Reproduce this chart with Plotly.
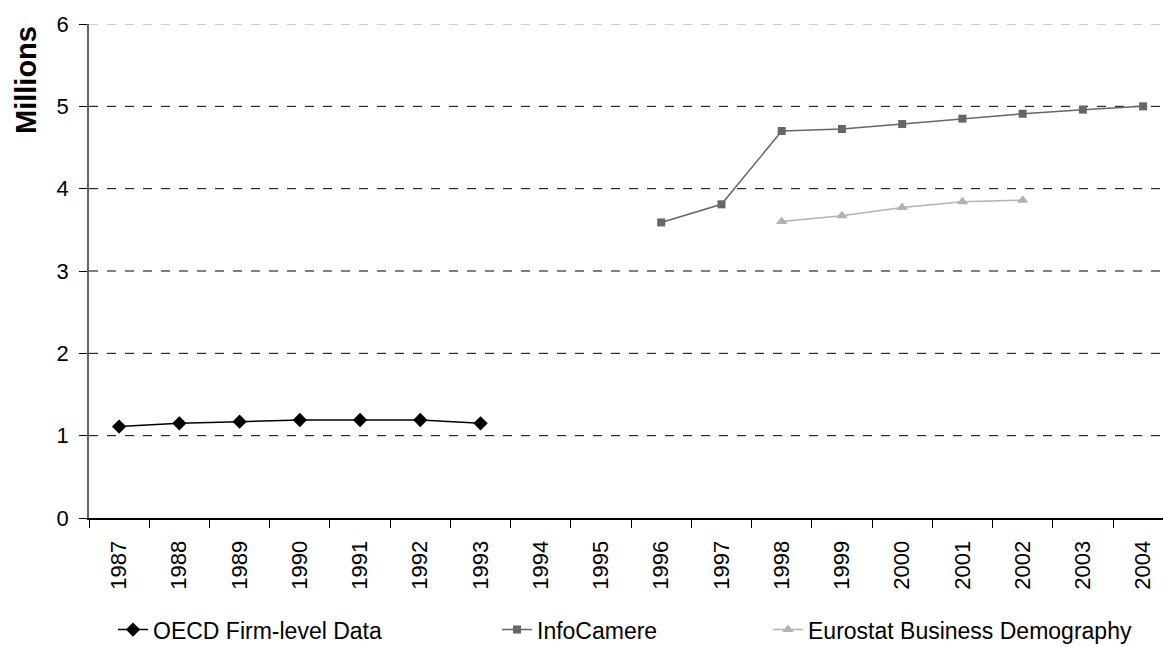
import plotly.graph_objects as go

years = [str(y) for y in range(1987, 2005)]

oecd_years = ["1987", "1988", "1989", "1990", "1991", "1992", "1993"]
oecd_vals = [1.11, 1.15, 1.17, 1.19, 1.19, 1.19, 1.15]

infocamere_years = ["1996", "1997", "1998", "1999", "2000", "2001", "2002", "2003", "2004"]
infocamere_vals = [3.59, 3.81, 4.70, 4.725, 4.785, 4.85, 4.91, 4.96, 5.00]

eurostat_years = ["1998", "1999", "2000", "2001", "2002"]
eurostat_vals = [3.60, 3.67, 3.77, 3.84, 3.86]

y_ticks = [0, 1, 2, 3, 4, 5, 6]

FONT = "Liberation Sans, Arial, sans-serif"

fig = go.Figure()

fig.add_trace(go.Scatter(
    x=oecd_years, y=oecd_vals, mode="lines+markers", name="OECD Firm-level Data",
    line=dict(color="#000000", width=1.5),
    marker=dict(symbol="diamond", size=11, color="#000000"),
    legend="legend",
))
fig.add_trace(go.Scatter(
    x=infocamere_years, y=infocamere_vals, mode="lines+markers", name="InfoCamere",
    line=dict(color="#666666", width=1.5),
    marker=dict(symbol="square", size=8, color="#666666"),
    legend="legend2",
))
fig.add_trace(go.Scatter(
    x=eurostat_years, y=eurostat_vals, mode="lines+markers", name="Eurostat Business Demography",
    line=dict(color="#b2b2b2", width=1.5),
    marker=dict(symbol="triangle-up", size=10, color="#b2b2b2"),
    legend="legend3",
))

# dashed horizontal gridlines (top one lighter)
for v in y_ticks[1:]:
    fig.add_shape(type="line", xref="paper", x0=0, x1=1, yref="y", y0=v, y1=v,
                  line=dict(color="#999999" if v == 6 else "#000000", width=1, dash="dash"),
                  layer="below")

# rotated y-axis title
fig.add_annotation(
    text="<b>Millions</b>", textangle=-90, showarrow=False,
    xref="paper", yref="paper", x=(26 - 89) / 1074, y=(518 - 80) / 494,
    xanchor="center", yanchor="middle",
    font=dict(family=FONT, size=29, color="#000000"),
)

legend_common = dict(orientation="h", yanchor="middle", y=-0.226, xanchor="left",
                     font=dict(family=FONT, size=23, color="#000000"),
                     bgcolor="rgba(0,0,0,0)", itemwidth=30, tracegroupgap=0)

fig.update_layout(
    width=1163, height=647,
    margin=dict(l=89, r=0, t=24, b=129, autoexpand=False),
    paper_bgcolor="white", plot_bgcolor="white",
    font=dict(family=FONT, size=22, color="#000000"),
    showlegend=True,
    legend=dict(x=(113 - 89) / 1074, **legend_common),
    legend2=dict(x=(497 - 89) / 1074, **legend_common),
    legend3=dict(x=(768 - 89) / 1074, **legend_common),
    xaxis=dict(
        type="category", categoryorder="array", categoryarray=years,
        range=[-0.5, 17.33], tickson="boundaries",
        ticks="outside", ticklen=8, tickcolor="#000000", tickwidth=1,
        tickangle=-90, tickfont=dict(family=FONT, size=22), ticklabelstandoff=12,
        showgrid=False, showline=True, linecolor="#000000", linewidth=2,
        zeroline=False, fixedrange=True,
    ),
    yaxis=dict(
        range=[0, 6], tickvals=y_ticks, ticks="outside", ticklen=8,
        tickcolor="#000000", tickfont=dict(family=FONT, size=22), ticklabelstandoff=6,
        showgrid=False, zeroline=False, showline=True, linecolor="#666666", linewidth=1.5,
    ),
)

fig.write_html("out.html")
